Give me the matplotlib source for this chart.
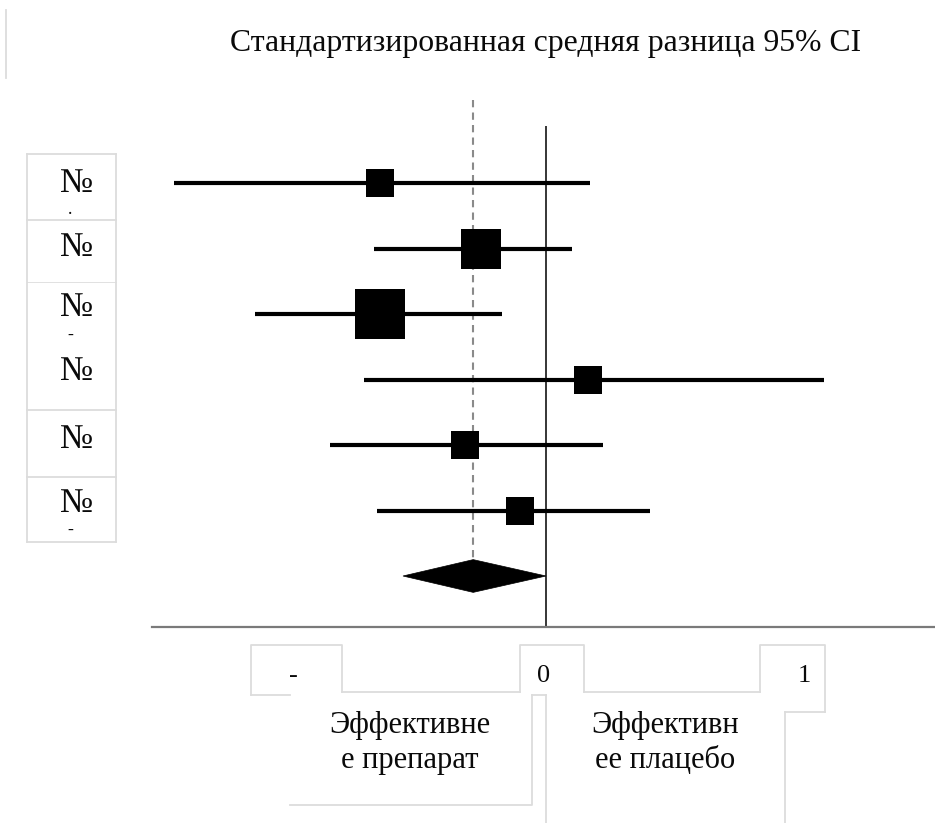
import matplotlib
matplotlib.use("Agg")
import matplotlib.pyplot as plt
from matplotlib.lines import Line2D
from matplotlib.patches import Polygon
import matplotlib.transforms as mtransforms
import numpy as np

# ---------------- data ----------------
title = "Стандартизированная средняя разница 95% CI"
row_labels = ["№", "№", "№", "№", "№", "№"]
row_marks = [".", "", "-", "", "", "-"]
estimates = [-0.64, -0.25, -0.64, 0.16, -0.31, -0.10]
ci_low = [-1.43, -0.66, -1.12, -0.70, -0.83, -0.65]
ci_high = [0.17, 0.10, -0.17, 1.07, 0.22, 0.40]
weights = [10.4, 22.3, 36.1, 10.4, 10.4, 10.4]
pooled_est = -0.28
pooled_low = -0.55
pooled_high = 0.0
tick_values = [-1, 0, 1]
tick_labels = ["-", "0", "1"]
side_labels = ["Эффективне\nе препарат", "Эффективн\nее плацебо"]

# ---------------- figure ----------------
W, H = 935, 823
fig = plt.figure(figsize=(W / 100, H / 100), dpi=100)
fig.patch.set_facecolor("white")
FONT = ["Liberation Serif", "DejaVu Serif"]
TXT = "#0a0a0a"


def fx(x):
    return x / W


def fy(y):
    return 1 - y / H


# axes placement (pixels)
ax_l, ax_r, ax_t, ax_b = 152, 935, 100, 627
ax = fig.add_axes([fx(ax_l), fy(ax_b), (ax_r - ax_l) / W, (ax_b - ax_t) / H])
ax.set_facecolor("none")
x0_px, unit_px = 546, 260
ax.set_xlim((ax_l - x0_px) / unit_px, (ax_r - x0_px) / unit_px)
row0_px, row_px = 183, 65.5
ax.set_ylim((ax_b - row0_px) / row_px, (ax_t - row0_px) / row_px)

for s in ["top", "right", "left"]:
    ax.spines[s].set_visible(False)
ax.spines["bottom"].set_color("#7a7a7a")
ax.spines["bottom"].set_linewidth(1.6)
ax.set_yticks([])
ax.set_xticks([])

n = len(estimates)
ys = np.arange(n)
ymax = ax.get_ylim()[0]
ytop = ax.get_ylim()[1]

# zero line
ax.plot([0, 0], [(126 - row0_px) / row_px, ymax], color="black", lw=1.1,
        solid_capstyle="butt", zorder=2)

# pooled dashed line
diamond_half = 0.25
ax.plot([pooled_est, pooled_est], [ytop, n - diamond_half], color="#8a8a8a",
        lw=1.5, dashes=(3.5, 2.5), zorder=1)

# CI lines
for i in range(n):
    ax.plot([ci_low[i], ci_high[i]], [ys[i], ys[i]], color="black", lw=3.0,
            solid_capstyle="butt", zorder=3)

# squares
sides = 6.1 * np.sqrt(np.array(weights))
for i in range(n):
    ax.plot([estimates[i]], [ys[i]], marker="s", ms=sides[i], mew=0,
            color="black", ls="none", zorder=4)

# diamond
diamond = Polygon([[pooled_low, n], [pooled_est, n - diamond_half],
                   [pooled_high, n], [pooled_est, n + diamond_half]],
                  closed=True, facecolor="black", edgecolor="black", lw=0.5,
                  zorder=4)
ax.add_patch(diamond)

# tick labels (x in data, y in figure)
trans = mtransforms.blended_transform_factory(ax.transData, fig.transFigure)
for v, lab in zip(tick_values, tick_labels):
    shift = 0.03 if lab == "-" else (-0.01 if v == 0 else -0.005)
    ax.text(v + shift, fy(676), lab, transform=trans, ha="center",
            va="center", fontsize=19, family=FONT, color=TXT)

# title
fig.text(fx(546), fy(44), title, ha="center", va="center", fontsize=22.9,
         family=FONT, color=TXT)

# row labels
label_y = [183, 247, 308, 372, 440, 503]
for i, (lab, mk) in enumerate(zip(row_labels, row_marks)):
    fig.text(fx(77), fy(label_y[i]), lab, ha="center", va="center",
             fontsize=25, family=FONT, color=TXT)
    if mk:
        fig.text(fx(70), fy(label_y[i] + 27), mk, ha="center", va="center",
                 fontsize=13, family=FONT, color=TXT)

# side labels
fig.text(fx(410), fy(743), side_labels[0], ha="center", va="center",
         fontsize=22, family=FONT, linespacing=1.25, color=TXT)
fig.text(fx(665), fy(743), side_labels[1], ha="center", va="center",
         fontsize=22, family=FONT, linespacing=1.25, color=TXT)

# faint text-box borders
BOX = "#dcdcdc"


def seg(xs, ys_, lw=1.3):
    fig.add_artist(Line2D([fx(v) for v in xs], [fy(v) for v in ys_],
                          transform=fig.transFigure, color=BOX, lw=lw,
                          zorder=0))


# top-left stray line
seg([6, 6], [10, 78])
# left row boxes
seg([27, 27], [154, 542])
seg([116, 116], [154, 542])
for yy in [154, 220, 410, 477, 542]:
    seg([27, 116], [yy, yy])
seg([27, 116], [282, 282], lw=0.6)
# tick label boxes
seg([251, 251, 342, 342], [695, 645, 645, 692])
seg([251, 290], [695, 695])
seg([342, 520], [692, 692])
seg([520, 520, 584, 584], [692, 645, 645, 692])
seg([584, 760], [692, 692])
seg([760, 760, 825, 825], [692, 645, 645, 712])
seg([785, 825], [712, 712])
seg([785, 785], [712, 823])
# side label boxes
seg([290, 532, 532], [805, 805, 695])
seg([532, 546], [695, 695])
seg([546, 546], [695, 823])

fig.savefig("out.png", dpi=100, facecolor="white")
